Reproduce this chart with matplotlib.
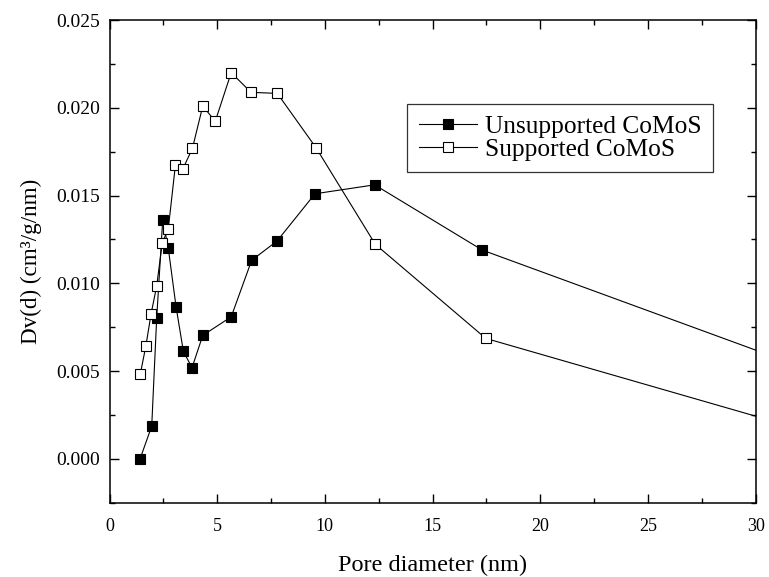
import matplotlib
matplotlib.use("Agg")
import matplotlib.pyplot as plt
from matplotlib.ticker import MultipleLocator

# Pore size distribution (BJH) of the two catalysts
unsup_d = [1.42, 1.96, 2.19, 2.47, 2.73, 3.09, 3.43, 3.83, 4.33, 5.65, 6.60, 7.78, 9.54, 12.31, 17.31, 33.5]
unsup_dv = [0.0000, 0.00186, 0.0080, 0.0136, 0.01199, 0.00866, 0.00612, 0.00519, 0.00703,
            0.00809, 0.01131, 0.01241, 0.0151, 0.01561, 0.01189, 0.00462]

sup_d = [1.43, 1.69, 1.93, 2.19, 2.45, 2.73, 3.06, 3.41, 3.85, 4.33, 4.91, 5.65, 6.57, 7.79,
         9.59, 12.34, 17.47, 33.5]
sup_dv = [0.00483, 0.00644, 0.00826, 0.00984, 0.01231, 0.01311, 0.01674, 0.01653, 0.01769,
          0.0201, 0.01923, 0.0220, 0.02088, 0.02082, 0.01772, 0.01222, 0.00686, 0.00119]

series_labels = ["Unsupported CoMoS", "Supported CoMoS"]
x_label = "Pore diameter (nm)"
y_label = "Dv(d) (cm\u00b3/g/nm)"

plt.rcParams["font.family"] = ["Liberation Serif", "DejaVu Serif"]

fig = plt.figure(figsize=(7.69, 5.77), dpi=100)
ax = fig.add_axes([0.1424, 0.1288, 0.9827 - 0.1424, 0.9653 - 0.1288])

ax.plot(unsup_d, unsup_dv, color="black", lw=0.8, marker="s", ms=7.2,
        mfc="black", mec="black", mew=0.8, label=series_labels[0])
ax.plot(sup_d, sup_dv, color="black", lw=0.8, marker="s", ms=7.2,
        mfc="white", mec="black", mew=0.8, label=series_labels[1])

ax.set_xlim(0, 30)
ax.set_ylim(-0.0025, 0.025)
ax.xaxis.set_major_locator(MultipleLocator(5))
ax.xaxis.set_minor_locator(MultipleLocator(2.5))
ax.yaxis.set_major_locator(MultipleLocator(0.005))
ax.yaxis.set_minor_locator(MultipleLocator(0.0025))
ax.yaxis.set_major_formatter(plt.FuncFormatter(lambda v, p: f"{v:.3f}"))

ax.tick_params(which="both", direction="in", top=True, right=True, width=1.0)
ax.tick_params(which="major", length=6.5)
ax.tick_params(which="minor", length=3.5)
ax.tick_params(axis="x", labelsize=13, pad=11)
ax.tick_params(axis="y", labelsize=14, pad=7)
for s in ax.spines.values():
    s.set_linewidth(1.1)

ax.set_xlabel(x_label, fontsize=17.5, labelpad=14.5)
ax.set_ylabel(y_label, fontsize=16.7, labelpad=10)

leg = ax.legend(loc="upper left", bbox_to_anchor=(0.461, 0.826), fontsize=18.3,
                frameon=True, fancybox=False, edgecolor="black", handlelength=2.3,
                handletextpad=0.3, borderpad=0.45, labelspacing=0.0, borderaxespad=0)
leg.get_frame().set_linewidth(0.9)

fig.savefig("out.png", dpi=100)
